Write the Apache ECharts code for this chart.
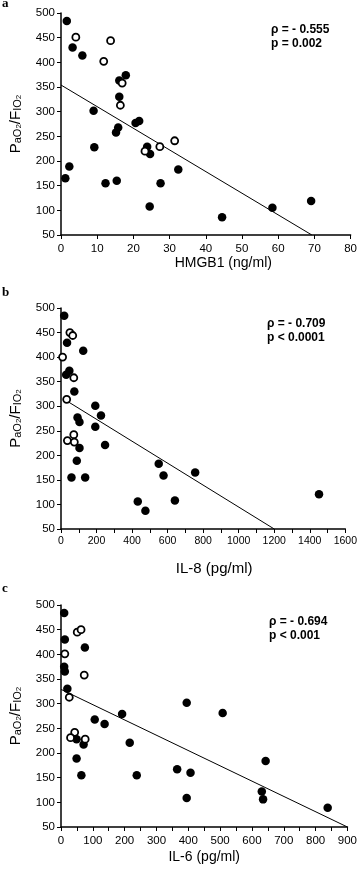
<!DOCTYPE html>
<html>
<head>
<meta charset="utf-8">
<script src="https://cdn.jsdelivr.net/npm/echarts@6/dist/echarts.min.js"></script>
<style>
html,body{margin:0;padding:0;background:#fff;}
#chart{width:360px;height:872px;}
</style>
</head>
<body>
<div id="chart"></div>
<script>
// ---- Data ----
var yTicks = [50, 500, 50]; // min, max, interval of PaO2/FIO2 axis

var aXName = 'HMGB1 (ng/ml)';
var aFilled = [[1.6,484],[3.2,430],[5.9,414],[9.0,302],[9.2,228],[2.3,189],[1.2,165],[12.3,155],[15.4,160],[15.2,258],[15.8,268],[16.1,330],[16.1,363],[17.9,374],[20.6,277],[21.6,281],[23.8,229],[24.6,214],[24.5,108],[27.5,155],[32.4,183],[44.5,86],[58.4,105],[69.1,119]];
var aOpen = [[4.1,451],[13.7,444],[11.8,402],[16.9,358],[16.4,313],[23.2,220],[27.3,229],[31.4,241]];
var aLine = [[0,354],[69.3,50]];
var aStats = ['ρ = - 0.555', 'p = 0.002'];

var bXName = 'IL-8 (pg/ml)';
var bFilled = [[18,484],[34,429],[125,413],[47,372],[29,364],[75,330],[193,301],[225,281],[93,277],[104,268],[193,258],[248,221],[104,215],[89,189],[59,155],[136,155],[550,183],[577,159],[432,106],[475,87],[755,165],[641,108],[1452,121]];
var bOpen = [[50,450],[66,444],[9,400],[72,358],[32,314],[72,242],[36,230],[75,227]];
var bLine = [[36,310],[1200,50]];
var bStats = ['ρ = - 0.709', 'p < 0.0001'];

var cXName = 'IL-6 (pg/ml)';
var cFilled = [[10,484],[12,430],[75,414],[10,375],[12,365],[20,330],[49,228],[71,217],[49,189],[64,155],[106,268],[137,259],[192,279],[216,221],[238,155],[395,302],[508,281],[365,167],[407,160],[395,109],[643,184],[631,122],[635,106],[838,89]];
var cOpen = [[51,445],[63,450],[12,401],[73,358],[26,313],[43,242],[30,231],[76,228]];
var cLine = [[0,329],[900,50]];
var cStats = ['ρ = - 0.694', 'p < 0.001'];

var panelLetters = ['a', 'b', 'c'];

// ---- Chart ----
var FONT = 'Liberation Sans, Arial, Helvetica, sans-serif';
var chart = echarts.init(document.getElementById('chart'), null, {renderer: 'canvas'});

var grids = [
  {left: 52, top: 13, width: 299, height: 222},
  {left: 48, top: 308, width: 299, height: 221},
  {left: 52, top: 605, width: 296, height: 222}
];

function yAxisFor(i) {
  return {
    type: 'value', gridIndex: i, min: yTicks[0], max: yTicks[1], interval: yTicks[2],
    name: '{P|P}{s|aO}{sub|2}{n|/}{P|F}{s|IO}{sub|2}',
    nameLocation: 'middle', nameRotate: 90, nameGap: 38,
    nameTextStyle: {
      color: '#000', fontFamily: FONT,
      rich: {
        P: {fontSize: 15, fontFamily: FONT, color: '#000', verticalAlign: 'bottom', lineHeight: 17},
        n: {fontSize: 15, fontFamily: FONT, color: '#000', verticalAlign: 'bottom', lineHeight: 17},
        s: {fontSize: 11, fontFamily: FONT, color: '#000', verticalAlign: 'bottom', lineHeight: 14},
        sub: {fontSize: 8, fontFamily: FONT, color: '#000', verticalAlign: 'bottom', lineHeight: 8}
      }
    },
    axisLine: {show: true, lineStyle: {color: '#000', width: 1.5}},
    axisTick: {show: true, length: 4, lineStyle: {color: '#000', width: 1}},
    axisLabel: {color: '#000', fontSize: 11.5, fontFamily: FONT, margin: 6},
    splitLine: {show: false}
  };
}

function xAxisFor(i, name, max, interval, labelStep, nameGap, namePad, nameSize, labelSize, labelMargin) {
  return {
    type: 'value', gridIndex: i, min: 0, max: max, interval: interval,
    name: name, nameLocation: 'middle', nameGap: nameGap,
    nameTextStyle: {color: '#000', fontSize: nameSize, fontFamily: FONT, padding: namePad},
    axisLine: {show: true, onZero: false, lineStyle: {color: '#000', width: 1.5}},
    axisTick: {show: true, length: 4, lineStyle: {color: '#000', width: 1}},
    axisLabel: {
      color: '#000', fontSize: labelSize, fontFamily: FONT, margin: labelMargin,
      formatter: function (v) { return (Math.round(v) % labelStep === 0) ? String(v) : ''; }
    },
    splitLine: {show: false}
  };
}

function seriesFor(i, filled, open, line) {
  return [
    {type: 'line', xAxisIndex: i, yAxisIndex: i, data: line, symbol: 'none',
     lineStyle: {color: '#000', width: 1}, silent: true, z: 1},
    {type: 'scatter', xAxisIndex: i, yAxisIndex: i, data: filled, symbol: 'circle', symbolSize: 8.5,
     itemStyle: {color: '#000', opacity: 1}, z: 2},
    {type: 'scatter', xAxisIndex: i, yAxisIndex: i, data: open, symbol: 'circle', symbolSize: 7,
     itemStyle: {color: '#fff', borderColor: '#000', borderWidth: 1.8, opacity: 1}, z: 3}
  ];
}

function statText(x, y, t) {
  return {type: 'text', x: x, y: y, silent: true,
          style: {text: t, fill: '#000', font: 'bold 12px ' + FONT, verticalAlign: 'middle'}};
}
function letterText(x, y, t) {
  return {type: 'text', x: x, y: y, silent: true,
          style: {text: t, fill: '#000', font: 'bold 13px Liberation Serif, Times New Roman, serif', verticalAlign: 'middle'}};
}

var option = {
  backgroundColor: '#fff',
  animation: false,
  grid: grids,
  xAxis: [
    xAxisFor(0, aXName, 80, 10, 10, 20, [0, 0, 0, 35], 14, 11.5, 8),
    xAxisFor(1, bXName, 1600, 100, 200, 32, [0, 0, 0, 22], 15, 10.5, 7),
    xAxisFor(2, cXName, 900, 50, 100, 23, [0, 0, 0, 0], 14, 11.5, 8)
  ],
  yAxis: [yAxisFor(0), yAxisFor(1), yAxisFor(2)],
  series: [].concat(
    seriesFor(0, aFilled, aOpen, aLine),
    seriesFor(1, bFilled, bOpen, bLine),
    seriesFor(2, cFilled, cOpen, cLine)
  ),
  graphic: [
    letterText(2, 4, panelLetters[0]),
    letterText(2, 293, panelLetters[1]),
    letterText(2, 589, panelLetters[2]),
    statText(271, 30, aStats[0]), statText(271, 44, aStats[1]),
    statText(267, 324, bStats[0]), statText(267, 338, bStats[1]),
    statText(269, 622, cStats[0]), statText(269, 636, cStats[1])
  ]
};
chart.setOption(option);
</script>
</body>
</html>
